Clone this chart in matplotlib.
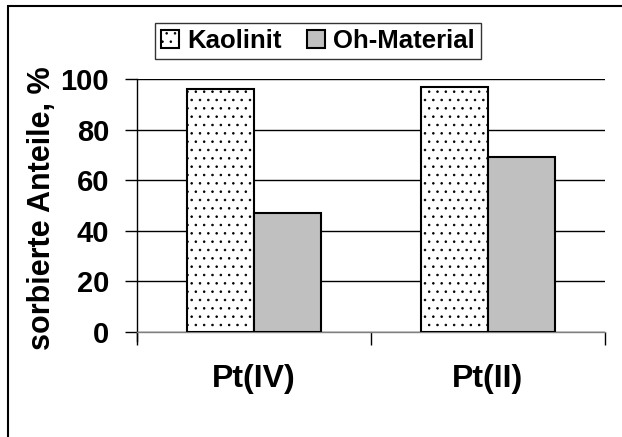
import numpy as np
import matplotlib.pyplot as plt
from matplotlib.patches import Rectangle

plt.rcParams['font.family'] = ['Liberation Sans', 'DejaVu Sans']
plt.rcParams['font.weight'] = 'bold'
plt.rcParams['hatch.linewidth'] = 0.6
plt.rcParams['hatch.color'] = '#333333'

# data
categories = ['Pt(IV)', 'Pt(II)']
kaolinit = [96, 97]
oh_material = [47, 69]
series_names = ['Kaolinit', 'Oh-Material']
y_ticks = [0, 20, 40, 60, 80, 100]

fig = plt.figure(figsize=(6.22, 4.37), dpi=100)
ax = fig.add_axes([137 / 622, 1 - 332 / 437, (605 - 137) / 622, (332 - 79) / 437])

# outer frame of the chart area
fig.patches.append(Rectangle((8 / 622, -0.1), 1.2, 1 - 6 / 437 + 0.1,
                             transform=fig.transFigure, fill=False,
                             edgecolor='black', linewidth=1.5))

x = np.arange(len(categories)) + 0.5
w = 0.286
ax.bar(x - w / 2, kaolinit, w, color='white', edgecolor='black', linewidth=1.5,
       hatch='..', label=series_names[0], zorder=3)
ax.bar(x + w / 2, oh_material, w, color='#c0c0c0', edgecolor='black', linewidth=1.5,
       label=series_names[1], zorder=3)

ax.set_xlim(0, 2)
ax.set_ylim(0, 100)
ax.set_yticks(y_ticks)
ax.set_yticklabels([str(t) for t in y_ticks], fontsize=21, fontweight='bold')
ax.set_xticks([0, 1, 2])
ax.set_xticklabels([])
ax.set_xticks(x, minor=True)
ax.set_xticklabels(categories, minor=True, fontsize=23, fontweight='bold')
ax.tick_params(axis='x', which='minor', length=0, pad=23)
ax.tick_params(axis='x', which='major', length=9, width=1, direction='out')
ax.tick_params(axis='y', length=9, width=1, direction='out', pad=11)

ax.yaxis.grid(True, color='black', linewidth=1, zorder=0)
ax.set_axisbelow(True)
ax.spines['top'].set_visible(False)
ax.spines['right'].set_visible(False)
ax.spines['left'].set_linewidth(1)
ax.spines['bottom'].set_color('#808080')
ax.spines['bottom'].set_linewidth(1)
ax.spines['left'].set_bounds(-3.5, 100)

ax.set_ylabel('sorbierte Anteile, %', fontsize=22, fontweight='bold')
ax.yaxis.set_label_coords(-0.172, 0.49)

leg = fig.legend(loc='center', bbox_to_anchor=(318 / 622, 1 - 41 / 437), ncol=2,
                 frameon=True, fancybox=False, edgecolor='black',
                 prop={'weight': 'bold', 'size': 18.5}, handlelength=0.7, handleheight=0.7,
                 handletextpad=0.3, columnspacing=1.0, borderpad=0.25)
leg.get_frame().set_linewidth(1)

fig.savefig('out.png', dpi=100)
